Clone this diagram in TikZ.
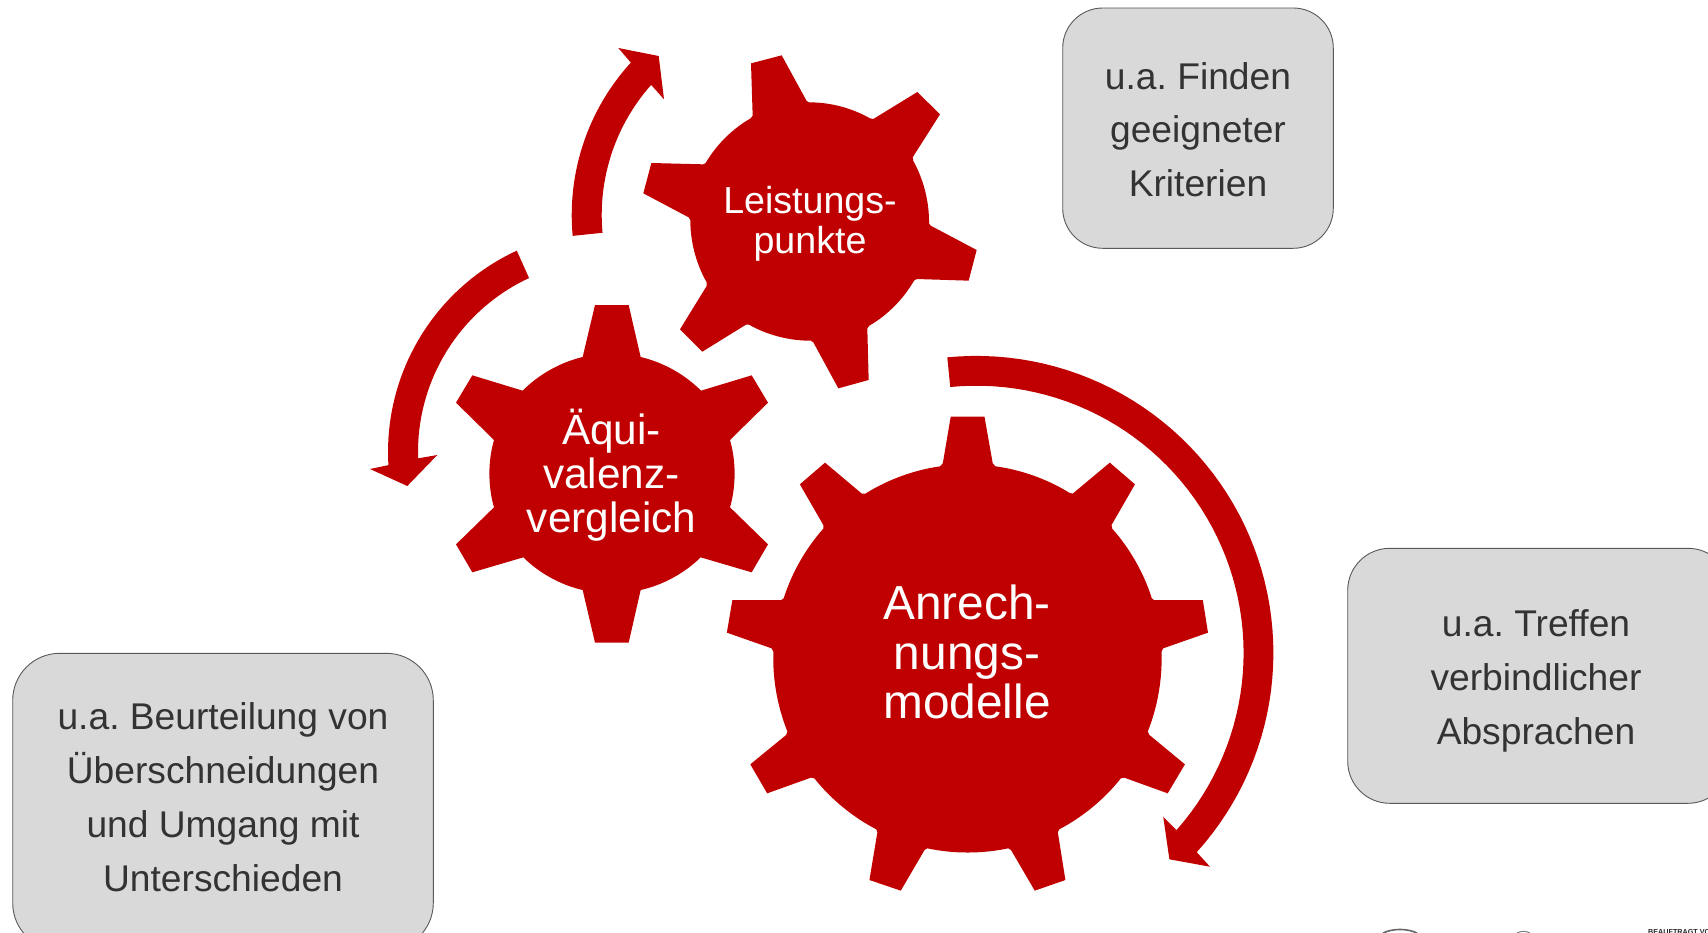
\documentclass[tikz,border=0pt]{standalone}
\usepackage{fontspec}
\setmainfont{Liberation Sans}
\frenchspacing
\definecolor{gearred}{HTML}{C00000}
\definecolor{boxgray}{HTML}{D9D9D9}
\definecolor{boxline}{HTML}{595959}
\definecolor{boxtext}{HTML}{333333}
\tikzset{
  gearfill/.style={fill=gearred,draw=none,looseness=0.85},
  boxshape/.style={fill=boxgray,draw=boxline,line width=0.9pt},
  boxlabel/.style={text=boxtext,align=center,inner sep=0pt,font=\fontsize{37.2}{53.8}\selectfont},
  gearlabel/.style={text=white,align=center,inner sep=0pt},
}
\begin{document}
\begin{tikzpicture}[x=1pt,y=-1pt]
\useasboundingbox (0,0) rectangle (1708,932);
\clip (0,0) rectangle (1708,932);
% boxes
\draw[boxshape,rounded corners=40pt] (1062.7,8) rectangle (1333.3,248.3);
\draw[boxshape,rounded corners=42pt] (1347.7,548.3) rectangle (1730,803.3);
\draw[boxshape,rounded corners=47pt] (12.7,653.3) rectangle (433.3,950);
\node[boxlabel] (finden) at (1198,129.5) {u.a. Finden\\geeigneter\\Kriterien};
\node[boxlabel] (treffen) at (1536,681) {u.a. Treffen\\verbindlicher\\Absprachen};
\node[boxlabel] (beurteilung) at (223,797) {u.a. Beurteilung von\\Überschneidungen\\und Umgang mit\\Unterschieden};
% large gear
\begin{scope}[shift={(700pt,-400pt)},x=0.34439pt,y=-0.33333pt]
\fill[gearfill] (728,50)--(826,50)--(850,190)--(858,199) to[bend left=12] (1072,278)--(1082,281)--(1190,188)--(1263,253)--(1195,375)--(1197,386) to[bend left=12] (1312,595)--(1318,600)--(1460,600)--(1475,698)--(1345,745)--(1340,755) to[bend left=12] (1300,995)--(1305,1005)--(1408,1093)--(1358,1180)--(1232,1133)--(1222,1135) to[bend left=12] (1043,1288)--(1039,1297)--(1061,1440)--(972,1472)--(903,1350)--(895,1345) to[bend left=12] (660,1345)--(652,1350)--(583,1472)--(492,1440)--(515,1297)--(512,1288) to[bend left=12] (332,1135)--(322,1133)--(195,1180)--(146,1093)--(250,1005)--(254,995) to[bend left=12] (213,755)--(208,745)--(78,698)--(94,600)--(236,600)--(243,595) to[bend left=12] (358,386)--(358,375)--(290,253)--(363,188)--(470,281)--(480,281) to[bend left=12] (697,199)--(705,190)--cycle;
\end{scope}
% small gear
\begin{scope}[shift={(620pt,-30pt)},x=0.33333pt,y=-0.33333pt]
\fill[gearfill] (393,100)--(485,76)--(560,213)--(567,217) to[bend left=15] (750,265)--(760,267)--(892,186)--(960,253)--(878,382)--(880,393) to[bend left=15] (927,580)--(932,587)--(1070,660)--(1046,752)--(890,747)--(882,752) to[bend left=15] (748,887)--(742,895)--(746,1050)--(655,1075)--(580,937)--(572,932) to[bend left=15] (387,884)--(378,884)--(247,965)--(180,898)--(260,768)--(260,757) to[bend left=15] (211,570)--(206,562)--(70,490)--(94,399)--(250,403)--(257,399) to[bend left=15] (392,265)--(398,257)--cycle;
\end{scope}
% middle gear
\begin{scope}[shift={(360pt,-230pt)},x=0.33333pt,y=-0.33333pt]
\fill[gearfill] (705,225)--(806,225)--(842,381) to[bend left=16] (1023,482)--(1175,436)--(1224,518)--(1110,630) to[bend left=16] (1110,832)--(1224,943)--(1175,1027)--(1022,982) to[bend left=16] (842,1080)--(806,1238)--(705,1238)--(668,1080) to[bend left=16] (490,982)--(337,1027)--(288,943)--(402,832) to[bend left=16] (402,630)--(288,518)--(337,436)--(488,482) to[bend left=16] (668,381)--cycle;
\end{scope}
% circular arrows
\fill[gearfill] plot[domain=-95.6:42.1,samples=60] ({976.3+297.1*cos(\x)},{653+297.1*sin(\x)})
  -- (1210,866.7) -- (1169.4,859.3) -- (1163.2,816.7)
  -- plot[domain=41.5:-95.6,samples=60] ({976.3+267.3*cos(\x)},{653+267.3*sin(\x)}) -- cycle;
\fill[gearfill] plot[domain=245.2:176.6,samples=40] ({609.8+221.8*cos(\x)},{452+221.8*sin(\x)})
  -- (370,469) -- (407.3,486) -- (437.3,455)
  -- plot[domain=178.1:245.1,samples=40] ({609.8+191.8*cos(\x)},{452+191.8*sin(\x)}) -- cycle;
\fill[gearfill] plot[domain=174.7:222.4,samples=30] ({797.7+226*cos(\x)},{215+226*sin(\x)})
  -- (618.3,48) -- (658.7,56) -- (664,99.3)
  -- plot[domain=221.6:174.8,samples=30] ({797.7+196*cos(\x)},{215+196*sin(\x)}) -- cycle;
% gear labels
\node[gearlabel,font=\fontsize{37.6}{39.5}\selectfont] (leistung) at (810,224) {Leistungs-\\punkte};
\node[gearlabel,font=\fontsize{42.3}{43.8}\selectfont] (aequi) at (611.5,475) {Äqui-\\valenz-\\vergleich};
\node[gearlabel,font=\fontsize{47.8}{49.7}\selectfont] (anrech) at (967,652) {Anrech-\\nungs-\\modelle};
% logo fragments at the lower edge
\draw[black!60,line width=1.6pt] (1383,933) .. controls (1393,928.3) and (1407,928.3) .. (1417,933);
\draw[black!50,line width=1pt] (1517,933) .. controls (1521,930.8) and (1526,930.8) .. (1530,933);
\node[anchor=base west,inner sep=0pt,text=black!85,font=\bfseries\fontsize{7.2}{8}\selectfont] (logo) at (1648,934) {BEAUFTRAGT VON};
\end{tikzpicture}
\end{document}
